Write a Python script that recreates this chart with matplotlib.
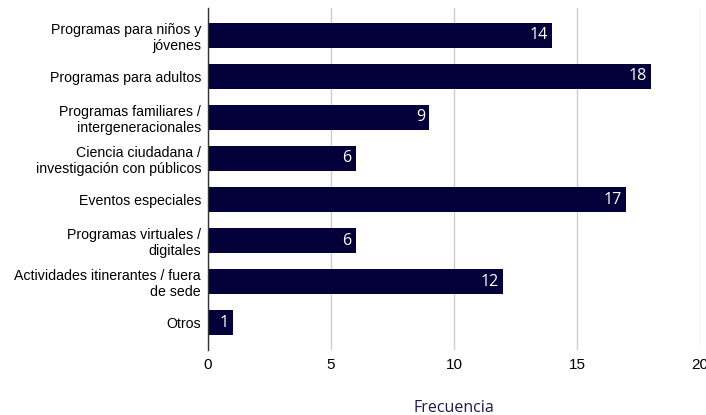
import matplotlib
matplotlib.use("Agg")
import matplotlib.pyplot as plt

categories = [
    "Programas para niños y\njóvenes",
    "Programas para adultos",
    "Programas familiares /\nintergeneracionales",
    "Ciencia ciudadana /\ninvestigación con públicos",
    "Eventos especiales",
    "Programas virtuales /\ndigitales",
    "Actividades itinerantes / fuera\nde sede",
    "Otros",
]
values = [14, 18, 9, 6, 17, 6, 12, 1]
xticks = [0, 5, 10, 15, 20]

bar_color = "#03003a"

fig = plt.figure(figsize=(7.06, 4.15), dpi=100)
ax = fig.add_axes([208 / 706, 1 - 350 / 415, 492 / 706, 342 / 415])

y = list(range(len(categories)))
bars = ax.barh(y, values, height=0.63, color=bar_color, zorder=3)

for rect, v in zip(bars, values):
    ax.annotate(str(v), xy=(rect.get_width(), rect.get_y() + rect.get_height() / 2),
                xytext=(-3, 0), textcoords="offset points", ha="right", va="center",
                color="white", fontsize=11.5, family="Open Sans", fontweight="medium",
                zorder=4)

ax.set_ylim(len(categories) - 0.33, -0.67)
ax.set_xlim(0, 20)
ax.set_xticks(xticks)
ax.set_xticklabels([str(t) for t in xticks], family="Liberation Sans", fontsize=11)
ax.set_yticks(y)
ax.set_yticklabels(categories, family="Liberation Sans", fontsize=10.2)
ax.tick_params(axis="y", length=0, pad=5)
ax.tick_params(axis="x", length=0, pad=6)

ax.grid(axis="x", color="#cccccc", linewidth=1, zorder=0)
for side in ["top", "right", "bottom"]:
    ax.spines[side].set_visible(False)
ax.spines["left"].set_color("#333333")
ax.spines["left"].set_linewidth(1)
ax.spines["left"].set_zorder(5)

ax.set_xlabel("Frecuencia", family="Open Sans", fontsize=11.5, color="#1c1b4d", labelpad=20)

fig.savefig("out.png", dpi=100)
